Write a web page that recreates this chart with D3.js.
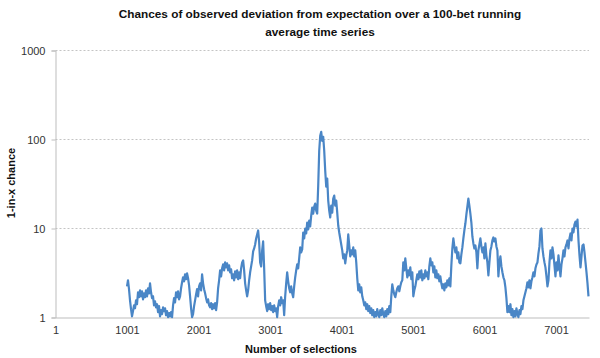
<!DOCTYPE html>
<html><head><meta charset="utf-8">
<script src="https://cdn.jsdelivr.net/npm/d3@7"></script>
<style>body{margin:0;background:#fff;} svg{display:block;font-family:"Liberation Sans",Arial,sans-serif;}</style>
</head><body><svg id="c" width="600" height="358"></svg>
<script>
const titleLines = ["Chances of observed deviation from expectation over a 100-bet running", "average time series"];
const xAxisTitle = "Number of selections";
const yAxisTitle = "1-in-x chance";
const yTicks = [1, 10, 100, 1000];
const xTicks = [1, 1001, 2001, 3001, 4001, 5001, 6001, 7001];
const selectionStart = 1001;
const selectionStep = 14;
const chance = [
2.24,2.62,2.08,1.56,1.24,1.03,1.18,1.37,1.27,1.56,
1.41,1.92,1.69,2.02,1.73,1.97,1.60,1.87,1.69,2.02,
1.73,2.13,1.87,2.42,1.92,1.65,1.73,1.37,1.52,1.30,
1.41,1.15,1.34,1.03,1.21,1.09,1.30,1.18,1.27,1.06,
1.18,1.01,1.12,1.03,1.15,1.01,1.37,1.65,1.48,1.92,
1.69,1.97,1.60,1.73,2.13,2.49,2.83,2.55,3.06,2.69,
3.13,2.76,2.30,1.73,1.27,1.01,1.09,
1.34,1.56,1.82,2.08,1.73,2.24,2.42,2.02,3.06,2.42,
2.08,1.87,1.65,1.48,1.60,1.37,1.30,1.45,1.24,1.41,
1.27,1.45,1.21,1.48,2.13,2.62,3.39,2.90,3.57,3.95,
3.39,4.16,3.66,4.06,3.39,3.85,3.22,3.48,2.76,3.06,
2.62,3.30,2.83,3.39,2.69,3.22,2.76,3.57,4.16,4.38,
3.39,2.42,2.02,1.73,2.02,2.62,3.22,3.75,4.38,5.53,
5.97,6.62,7.73,8.57,9.50,6.97,4.16,3.75,5.67,7.15,
3.57,1.56,
1.34,1.18,1.41,1.24,1.45,1.21,1.34,1.15,1.37,1.18,
1.27,1.01,1.34,1.56,1.37,1.69,1.45,1.56,1.06,1.73,
2.42,3.22,2.55,2.13,1.92,2.24,1.87,1.69,2.24,2.83,
3.39,3.95,3.57,4.62,6.13,5.39,5.82,9.02,7.73,10.00,
8.79,11.67,9.75,12.29,10.53,13.98,17.18,14.72,17.63,19.05,
15.90,14.72,30.30,74.7,110.0,122.0,96.7,107.2,74.7,44.6,
29.5,36.3,20.6,15.9,13.3,18.1,15.1,21.7,23.4,18.1,
20.6,15.1,10.8,9.02,7.73,6.62,5.67,4.62,5.12,4.06,
4.99,5.67,8.57,6.45,4.86,5.67,5.12,6.13,4.86,5.67,
4.16,2.76,2.02,2.36,1.92,2.18,1.73,1.56,1.37,1.48,
1.24,1.41,1.18,1.34,1.12,1.27,1.06,1.21,1.01,1.15,
1.03,1.24,1.09,1.01,1.21,1.06,1.27,1.09,1.01,1.18,
1.03,1.24,1.09,1.34,1.15,1.73,2.36,2.02,1.82,1.69,
1.92,2.13,2.24,1.97,2.24,2.49,2.62,4.16,
3.39,4.62,3.57,2.83,3.39,2.98,3.66,2.69,3.22,1.73,
2.02,2.24,2.62,3.06,2.69,3.30,2.83,3.39,2.62,3.06,
2.76,3.39,2.90,3.22,2.69,3.75,4.62,3.85,4.16,3.22,
3.75,2.83,3.39,2.76,3.06,2.55,2.90,2.42,2.13,2.36,
2.02,2.42,2.18,2.62,2.30,2.76,2.24,3.85,5.97,7.73,
6.29,5.39,6.13,4.62,5.39,4.16,4.06,5.12,6.13,7.73,
9.50,11.38,14.35,17.63,21.67,18.09,14.72,
11.67,8.14,6.79,5.97,6.45,5.39,3.57,5.67,6.62,7.73,
6.29,5.39,6.13,4.62,6.79,4.99,4.16,2.98,4.16,5.67,
6.29,7.34,7.93,7.15,7.73,6.29,5.67,2.90,4.16,4.86,
3.75,3.22,2.83,2.62,2.18,1.65,1.15,1.34,1.15,1.41,
1.06,1.24,1.01,1.18,1.03,1.27,1.09,1.01,1.21,1.09,
1.34,1.24,1.56,1.73,1.92,2.13,2.49,2.18,2.62,2.13,
2.55,2.83,3.22,2.90,3.57,3.95,4.16,5.25,6.29,9.50,
10.00,5.97,4.86,4.16,3.66,2.90,2.24,2.62,4.16,5.67,
4.62,6.13,5.12,3.85,2.90,4.16,3.39,4.99,3.75,2.90,
3.95,4.62,5.67,4.86,6.13,6.62,7.34,5.97,7.73,8.79,
7.34,10.00,9.02,11.09,11.98,10.53,12.61,7.34,4.99,3.66,
4.86,6.45,6.62,5.39,4.16,3.22,2.42,1.73
];

const svg = d3.select("#c");
const plotL = 55.5, plotR = 589, plotT = 50.5, plotB = 317.5;
const x = d3.scaleLinear().domain([1, 7462]).range([plotL, plotR]);
const y = d3.scaleLog().domain([1, 1000]).range([plotB, plotT]);

const data = chance.map((v, i) => ({ s: selectionStart + i * selectionStep, v }));

// gridlines
svg.append("g").selectAll("line").data(yTicks.filter(t => t > 1)).join("line")
  .attr("x1", plotL).attr("x2", plotR)
  .attr("y1", d => y(d)).attr("y2", d => y(d))
  .attr("stroke", "#c4c4c4").attr("stroke-width", 1).attr("stroke-dasharray", "2,2");

// y axis
const yAxis = d3.axisLeft(y).tickValues(yTicks).tickFormat(d3.format("d")).tickSize(4).tickPadding(6);
const gy = svg.append("g").attr("transform", `translate(${plotL},0)`).call(yAxis);
gy.select(".domain").attr("stroke", "#bdbdbd");
gy.selectAll(".tick line").attr("stroke", "#bdbdbd");
gy.selectAll(".tick text").attr("font-size", 11).attr("fill", "#333").attr("font-family", "Liberation Sans, Arial, sans-serif");

// x axis
const xAxis = d3.axisBottom(x).tickValues(xTicks).tickFormat(d3.format("d")).tickSize(0).tickPadding(9);
const gx = svg.append("g").attr("transform", `translate(0,${plotB})`).call(xAxis);
gx.select(".domain").attr("stroke", "#bdbdbd");
gx.selectAll(".tick text").attr("font-size", 11).attr("fill", "#333").attr("font-family", "Liberation Sans, Arial, sans-serif");

// line
const line = d3.line().x(d => x(d.s)).y(d => y(d.v));
svg.append("path").datum(data).attr("d", line)
  .attr("fill", "none").attr("stroke", "#4a86c6").attr("stroke-width", 2.2)
  .attr("stroke-linejoin", "round");

// titles
svg.append("text").attr("text-anchor", "middle")
  .attr("font-weight", "bold").attr("font-size", 11.8).attr("fill", "#111")
  .selectAll("tspan").data(titleLines).join("tspan")
  .attr("x", 320).attr("y", (d, i) => 18 + i * 18).text(d => d);

svg.append("text").attr("x", 301).attr("y", 353).attr("text-anchor", "middle")
  .attr("font-weight", "bold").attr("font-size", 11).attr("fill", "#111").text(xAxisTitle);

svg.append("text").attr("transform", "translate(15,183) rotate(-90)").attr("text-anchor", "middle")
  .attr("font-weight", "bold").attr("font-size", 11).attr("fill", "#111").text(yAxisTitle);
</script></body></html>
